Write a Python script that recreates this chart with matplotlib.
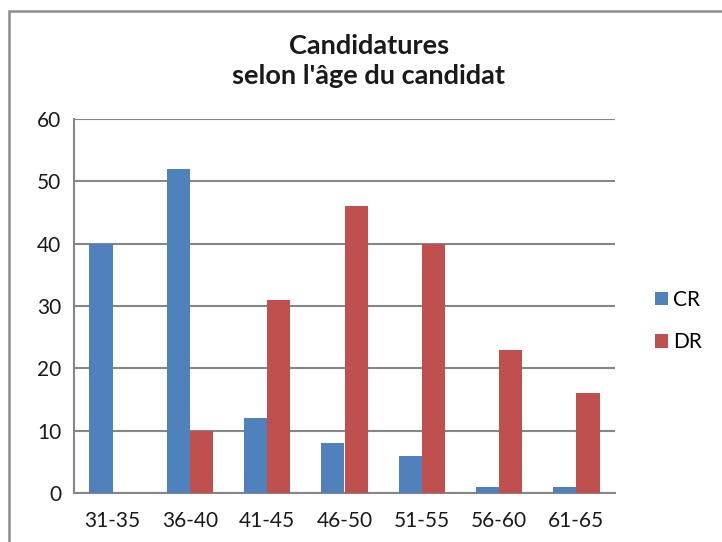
import matplotlib
matplotlib.use("Agg")
import matplotlib.pyplot as plt
import numpy as np
from matplotlib.patches import Rectangle

categories = ["31-35", "36-40", "41-45", "46-50", "51-55", "56-60", "61-65"]
cr_values = [40, 52, 12, 8, 6, 1, 1]
dr_values = [0, 10, 31, 46, 40, 23, 16]
y_ticks = [0, 10, 20, 30, 40, 50, 60]

plt.rcParams['font.family'] = ['Lato', 'DejaVu Sans']

W, H = 722, 542
fig = plt.figure(figsize=(W / 100, H / 100), dpi=100)
fig.patch.set_facecolor("white")

# outer frame (left and top visible)
fig.add_artist(Rectangle((9 / W, -0.1), 1.2, (H - 11) / H + 0.1, transform=fig.transFigure,
                         fill=False, edgecolor="#8c8c8c", linewidth=1.8))

ax = fig.add_axes([74 / W, 1 - 493 / H, (615 - 74) / W, (493 - 119) / H])
x = np.arange(len(categories))
w = 0.3
ax.bar(x - w / 2, cr_values, w, color="#4F81BD", label="CR", zorder=3)
ax.bar(x + w / 2, dr_values, w, color="#C0504D", label="DR", zorder=3)

ax.set_xlim(-0.5, len(categories) - 0.5)
ax.set_ylim(0, 60)
ax.set_yticks(y_ticks)
ax.set_xticks(x)
ax.set_xticklabels(categories)
ax.tick_params(axis='both', length=0, labelsize=15, colors="#1a1a1a")
ax.tick_params(axis='y', pad=9)
ax.tick_params(axis='x', pad=13)
ax.grid(axis='y', color="#868686", linewidth=1.5, zorder=0)
for s in ["top", "right"]:
    ax.spines[s].set_visible(False)
for s in ["left", "bottom"]:
    ax.spines[s].set_color("#868686")
    ax.spines[s].set_linewidth(1.5)

fig.text(369 / W, 1 - 61 / H, "Candidatures\nselon l'âge du candidat", ha="center", va="center",
         fontsize=19.5, fontweight="bold", linespacing=1.3, color="#1a1a1a")

leg = ax.legend(loc="center left", bbox_to_anchor=(1.04, 0.46), frameon=False,
                fontsize=15, handlelength=0.6, handleheight=0.6, handletextpad=0.25,
                labelspacing=1.1)

fig.savefig("out.png", dpi=100, facecolor="white")
